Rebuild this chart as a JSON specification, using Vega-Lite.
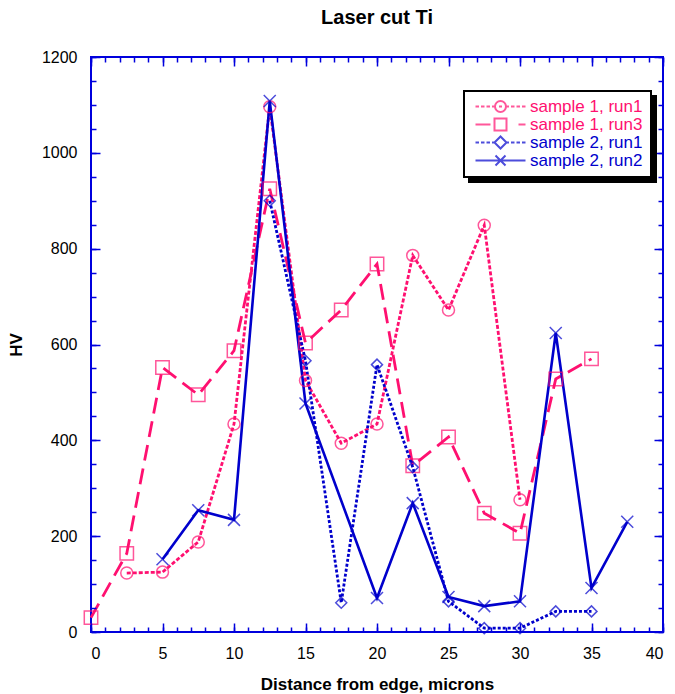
{
  "$schema": "https://vega.github.io/schema/vega-lite/v6.json",
  "autosize": {"type": "none"},
  "width": 572,
  "height": 575,
  "padding": {"left": 91, "top": 57, "right": 12, "bottom": 62},
  "background": "white",
  "title": {"text": "Laser cut Ti", "font": "Liberation Sans", "fontSize": 20, "fontWeight": "bold", "color": "black", "anchor": "middle", "frame": "group", "offset": 21},
  "config": {
    "view": {"stroke": "#0000dd", "strokeWidth": 2},
    "legend": {"strokeWidth": 2},
    "axis": {"grid": false, "domain": false, "labelFont": "Liberation Sans", "labelFontSize": 16, "labelColor": "black", "tickColor": "#0000dd", "tickWidth": 1.5, "titleFont": "Liberation Sans", "titleFontSize": 17, "titleFontWeight": "bold", "titleColor": "black", "format": "d"}
  },
  "data": {"values": [
    {"series": "sample 1, run1", "x": 2.5, "hv": 123},
    {"series": "sample 1, run1", "x": 5, "hv": 125},
    {"series": "sample 1, run1", "x": 7.5, "hv": 188},
    {"series": "sample 1, run1", "x": 10, "hv": 434},
    {"series": "sample 1, run1", "x": 12.5, "hv": 1096},
    {"series": "sample 1, run1", "x": 15, "hv": 525},
    {"series": "sample 1, run1", "x": 17.5, "hv": 394},
    {"series": "sample 1, run1", "x": 20, "hv": 434},
    {"series": "sample 1, run1", "x": 22.5, "hv": 786},
    {"series": "sample 1, run1", "x": 25, "hv": 672},
    {"series": "sample 1, run1", "x": 27.5, "hv": 849},
    {"series": "sample 1, run1", "x": 30, "hv": 276},
    {"series": "sample 1, run3", "x": 0, "hv": 30},
    {"series": "sample 1, run3", "x": 2.5, "hv": 164},
    {"series": "sample 1, run3", "x": 5, "hv": 552},
    {"series": "sample 1, run3", "x": 7.5, "hv": 495},
    {"series": "sample 1, run3", "x": 10, "hv": 587},
    {"series": "sample 1, run3", "x": 12.5, "hv": 925},
    {"series": "sample 1, run3", "x": 15, "hv": 603},
    {"series": "sample 1, run3", "x": 17.5, "hv": 672},
    {"series": "sample 1, run3", "x": 20, "hv": 768},
    {"series": "sample 1, run3", "x": 22.5, "hv": 347},
    {"series": "sample 1, run3", "x": 25, "hv": 407},
    {"series": "sample 1, run3", "x": 27.5, "hv": 248},
    {"series": "sample 1, run3", "x": 30, "hv": 206},
    {"series": "sample 1, run3", "x": 32.5, "hv": 528},
    {"series": "sample 1, run3", "x": 35, "hv": 570},
    {"series": "sample 2, run1", "x": 12.5, "hv": 900},
    {"series": "sample 2, run1", "x": 15, "hv": 566},
    {"series": "sample 2, run1", "x": 17.5, "hv": 61},
    {"series": "sample 2, run1", "x": 20, "hv": 558},
    {"series": "sample 2, run1", "x": 22.5, "hv": 344},
    {"series": "sample 2, run1", "x": 25, "hv": 64},
    {"series": "sample 2, run1", "x": 27.5, "hv": 8},
    {"series": "sample 2, run1", "x": 30, "hv": 8},
    {"series": "sample 2, run1", "x": 32.5, "hv": 43},
    {"series": "sample 2, run1", "x": 35, "hv": 43},
    {"series": "sample 2, run2", "x": 5, "hv": 152},
    {"series": "sample 2, run2", "x": 7.5, "hv": 254},
    {"series": "sample 2, run2", "x": 10, "hv": 234},
    {"series": "sample 2, run2", "x": 12.5, "hv": 1108},
    {"series": "sample 2, run2", "x": 15, "hv": 477},
    {"series": "sample 2, run2", "x": 20, "hv": 71},
    {"series": "sample 2, run2", "x": 22.5, "hv": 269},
    {"series": "sample 2, run2", "x": 25, "hv": 73},
    {"series": "sample 2, run2", "x": 27.5, "hv": 54},
    {"series": "sample 2, run2", "x": 30, "hv": 64},
    {"series": "sample 2, run2", "x": 32.5, "hv": 624},
    {"series": "sample 2, run2", "x": 35, "hv": 92},
    {"series": "sample 2, run2", "x": 37.5, "hv": 230}
  ]},
  "resolve": {"axis": {"x": "independent", "y": "independent"}, "legend": {"fill": "independent"}},
  "layer": [
    {
      "transform": [{"filter": "datum.series === 'sample 1, run1'"}],
      "mark": {"type": "line", "strokeWidth": 2.8, "clip": false, "color": "#ff1070", "strokeDash": [4, 2]},
      "encoding": {
        "x": {"field": "x", "type": "quantitative", "scale": {"domain": [0, 40], "nice": false}, "axis": {"orient": "bottom", "values": [0,5,10,15,20,25,30,35,40], "ticks": false, "labelPadding": 13, "title": "Distance from edge, microns", "titlePadding": 15}},
        "y": {"field": "hv", "type": "quantitative", "scale": {"domain": [0, 1200], "nice": false}, "axis": {"orient": "left", "values": [0,200,400,600,800,1000,1200], "ticks": false, "labelPadding": 14, "title": "HV", "titlePadding": 16}}
      }
    },
    {
      "transform": [{"filter": "datum.series === 'sample 1, run3'"}],
      "mark": {"type": "line", "strokeWidth": 2.8, "clip": false, "color": "#ff1070", "strokeDash": [16, 8]},
      "encoding": {
        "x": {"field": "x", "type": "quantitative", "axis": null},
        "y": {"field": "hv", "type": "quantitative", "axis": null}
      }
    },
    {
      "transform": [{"filter": "datum.series === 'sample 2, run1'"}],
      "mark": {"type": "line", "strokeWidth": 2.8, "clip": false, "color": "#0000cc", "strokeDash": [3, 2]},
      "encoding": {
        "x": {"field": "x", "type": "quantitative", "axis": null},
        "y": {"field": "hv", "type": "quantitative", "axis": null}
      }
    },
    {
      "transform": [{"filter": "datum.series === 'sample 2, run2'"}],
      "mark": {"type": "line", "strokeWidth": 2.6, "clip": false, "color": "#0000cc"},
      "encoding": {
        "x": {"field": "x", "type": "quantitative", "axis": null},
        "y": {"field": "hv", "type": "quantitative", "axis": null}
      }
    },
    {
      "transform": [{"filter": "datum.series === 'sample 1, run1'"}],
      "mark": {"type": "point", "shape": "circle", "filled": false, "size": 144, "strokeWidth": 1.5, "clip": false, "color": "#ff1070"},
      "encoding": {
        "x": {"field": "x", "type": "quantitative", "axis": {"orient": "bottom", "values": [0,5,10,15,20,25,30,35,40], "labels": false, "tickSize": 9, "offset": -9, "zindex": 1, "title": null}},
        "y": {"field": "hv", "type": "quantitative", "axis": {"orient": "left", "values": [0,200,400,600,800,1000,1200], "labels": false, "tickSize": 9, "offset": -9, "zindex": 1, "title": null}}
      }
    },
    {
      "transform": [{"filter": "datum.series === 'sample 1, run3'"}],
      "mark": {"type": "point", "shape": "square", "filled": false, "size": 180, "strokeWidth": 1.5, "clip": false, "color": "#ff1070"},
      "encoding": {
        "x": {"field": "x", "type": "quantitative", "axis": {"orient": "bottom", "values": [0,1,2,3,4,5,6,7,8,9,10,11,12,13,14,15,16,17,18,19,20,21,22,23,24,25,26,27,28,29,30,31,32,33,34,35,36,37,38,39,40], "labels": false, "tickSize": 5, "offset": -5, "zindex": 1, "title": null}},
        "y": {"field": "hv", "type": "quantitative", "axis": {"orient": "left", "values": [0,50,100,150,200,250,300,350,400,450,500,550,600,650,700,750,800,850,900,950,1000,1050,1100,1150,1200], "labels": false, "tickSize": 5, "offset": -5, "zindex": 1, "title": null}}
      }
    },
    {
      "transform": [{"filter": "datum.series === 'sample 2, run1'"}],
      "mark": {"type": "point", "shape": "diamond", "filled": false, "size": 121, "strokeWidth": 1.5, "clip": false, "color": "#0000cc"},
      "encoding": {
        "x": {"field": "x", "type": "quantitative", "axis": {"orient": "top", "values": [0,5,10,15,20,25,30,35,40], "labels": false, "tickSize": 9, "offset": -9, "zindex": 1, "title": null}},
        "y": {"field": "hv", "type": "quantitative", "axis": {"orient": "right", "values": [0,200,400,600,800,1000,1200], "labels": false, "tickSize": 9, "offset": -9, "zindex": 1, "title": null}}
      }
    },
    {
      "transform": [{"filter": "datum.series === 'sample 2, run2'"}],
      "mark": {"type": "point", "shape": "M-1,-1L1,1M-1,1L1,-1", "filled": false, "size": 144, "strokeWidth": 1.5, "clip": false, "color": "#0000cc"},
      "encoding": {
        "x": {"field": "x", "type": "quantitative", "axis": {"orient": "top", "values": [0,1,2,3,4,5,6,7,8,9,10,11,12,13,14,15,16,17,18,19,20,21,22,23,24,25,26,27,28,29,30,31,32,33,34,35,36,37,38,39,40], "labels": false, "tickSize": 5, "offset": -5, "zindex": 1, "title": null}},
        "y": {"field": "hv", "type": "quantitative", "axis": {"orient": "right", "values": [0,50,100,150,200,250,300,350,400,450,500,550,600,650,700,750,800,850,900,950,1000,1050,1100,1150,1200], "labels": false, "tickSize": 5, "offset": -5, "zindex": 1, "title": null}}
      }
    },
    {
      "transform": [{"filter": "false"}],
      "mark": {"type": "point", "filled": true},
      "encoding": {
        "x": {"field": "x", "type": "quantitative", "axis": null},
        "y": {"field": "hv", "type": "quantitative", "axis": null},
        "fill": {"field": "series", "type": "nominal", "scale": {"domain": ["sample 1, run1 ", "sample 1, run3 ", "sample 2, run1 ", "sample 2, run2 "], "range": ["black", "black", "black", "black"]}, "legend": {"orient": "none", "legendX": 378, "legendY": 39, "zindex": 1, "title": null, "fillColor": "black", "strokeColor": "black", "padding": 8, "symbolSize": 100, "symbolType": "circle", "symbolOffset": 20, "labelOffset": 21, "labelFont": "Liberation Sans", "labelFontSize": 17, "labelColor": "black", "rowPadding": 0, "clipHeight": 15, "labelExpr": "trim(datum.label)"}}
      }
    },
    {
      "transform": [{"filter": "false"}],
      "mark": {"type": "point", "filled": false},
      "encoding": {
        "x": {"field": "x", "type": "quantitative", "axis": null},
        "y": {"field": "hv", "type": "quantitative", "axis": null},
        "color": {"field": "series", "type": "nominal", "scale": {"domain": ["sample 1, run1", "sample 1, run3", "sample 2, run1", "sample 2, run2"], "range": ["#ff1070", "#ff1070", "#0000cc", "#0000cc"]}, "legend": {"orient": "none", "legendX": 373, "legendY": 34, "zindex": 2, "title": null, "fillColor": "white", "strokeColor": "black", "padding": 8, "symbolSize": 100, "symbolOffset": 20, "labelOffset": 21, "symbolStrokeWidth": 2, "labelFont": "Liberation Sans", "labelFontSize": 17, "rowPadding": 0, "clipHeight": 15, "labelColor": {"expr": "indexof(datum.value, 'sample 1') === 0 ? '#ff1070' : '#0000cc'"}}},
        "shape": {"field": "series", "type": "nominal", "scale": {"domain": ["sample 1, run1", "sample 1, run3", "sample 2, run1", "sample 2, run2"], "range": [
          "M-5,0H-4.3M-3.9,0H-3.2M-2.8,0H-2.1M-1.7,0H-1.1M1.1,0H1.7M2.1,0H2.8M3.2,0H3.9M4.3,0H5M-0.3,0H0.3M-1.1,0A1.1,1.1 0 1,0 1.1,0A1.1,1.1 0 1,0 -1.1,0",
          "M-5,0H-2M-1.2,-1.2H1.2V1.2H-1.2ZM3.6,0H5",
          "M-5,0H-4.3M-3.9,0H-3.2M-2.8,0H-2.1M-1.7,0H-1.2M1.2,0H1.7M2.1,0H2.8M3.2,0H3.9M4.3,0H5M-1.2,0L0,-1.2L1.2,0L0,1.2Z",
          "M-5,0H5M-1,-1L1,1M-1,1L1,-1"
        ]}, "legend": {"orient": "none", "legendX": 373, "legendY": 34, "zindex": 2, "title": null, "fillColor": "white", "strokeColor": "black", "padding": 8, "symbolSize": 100, "symbolOffset": 20, "labelOffset": 21, "symbolStrokeWidth": 2, "labelFont": "Liberation Sans", "labelFontSize": 17, "rowPadding": 0, "clipHeight": 15, "labelColor": {"expr": "indexof(datum.value, 'sample 1') === 0 ? '#ff1070' : '#0000cc'"}}}
      }
    }
  ]
}
